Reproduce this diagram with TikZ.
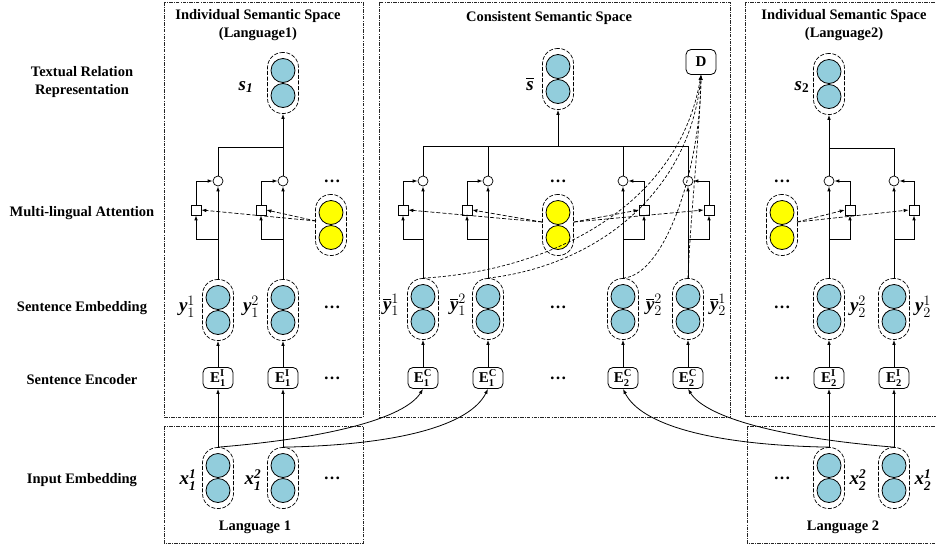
\documentclass[tikz,border=0pt]{standalone}
\usepackage{amsmath}
\usepackage{fontspec}
\setmainfont{Liberation Serif}
\usetikzlibrary{arrows.meta,calc}
\definecolor{cblue}{RGB}{146,205,220}
\definecolor{cyel}{RGB}{255,255,0}
\newcommand\tbi[1]{\text{\bfseries\itshape #1}}
\newcommand\tbu[1]{\text{\bfseries #1}}
\newcommand\mkpair[4]{%
  \node[pairbox] (#1) at (#2,#3) {};
  \node[unit,#4] (#1a) at (#2,#3-12.5) {};
  \node[unit,#4] (#1b) at (#2,#3+12.5) {};
}
\begin{document}
\begin{tikzpicture}[x=1pt,y=-1pt,
  tip/.style={-{Latex[length=5pt,width=3.6pt]}},
  region/.style={draw=black!85, line width=0.7pt, dash pattern=on 3.5pt off 1.2pt on 0.8pt off 1.2pt},
  pairbox/.style={draw, line width=0.7pt, dash pattern=on 4pt off 1.6pt, rounded corners=15pt, minimum width=31pt, minimum height=61pt, inner sep=0pt},
  unit/.style={circle, draw, line width=0.8pt, minimum size=24pt, inner sep=0pt},
  bfill/.style={fill=cblue}, yfill/.style={fill=cyel},
  enc/.style={draw, rounded corners=5pt, minimum width=30pt, minimum height=21pt, inner sep=0pt, line width=0.8pt, font=\fontsize{15}{17}\selectfont},
  att/.style={circle, draw, line width=0.7pt, minimum size=10pt, inner sep=0pt},
  sq/.style={draw, line width=0.7pt, minimum size=10pt, inner sep=0pt},
  txt/.style={font=\bfseries\fontsize{14.5}{18}\selectfont, align=center, inner sep=0pt},
  mlab/.style={font=\fontsize{19}{21}\selectfont, inner sep=0pt},
  dotsn/.style={font=\bfseries\fontsize{17}{19}\selectfont, inner sep=0pt},
  dline/.style={line width=0.7pt, dash pattern=on 4pt off 2pt},
  dcurve/.style={line width=0.7pt, dash pattern=on 3pt off 2pt},
  conn/.style={line width=0.8pt}
]
\useasboundingbox (0,0) rectangle (936,544);
\clip (0,0) rectangle (936,544);

% regions
\draw[region] (164,2) rectangle (363,417);
\draw[region] (164,426) rectangle (363,543);
\draw[region] (379,2) rectangle (730,417);
\draw[region] (745,2) rectangle (945,416);
\draw[region] (747,426) rectangle (945,543);

% titles
\node[txt] (t1) at (258,25) {Individual Semantic Space\\(Language1)};
\node[txt] (t2) at (549,18) {Consistent Semantic Space};
\node[txt] (t3) at (844,25) {Individual Semantic Space\\(Language2)};

% row labels
\node[txt] (r1) at (82,82) {Textual Relation\\Representation};
\node[txt] (r2) at (82,213) {Multi-lingual Attention};
\node[txt] (r3) at (82,308) {Sentence Embedding};
\node[txt] (r4) at (82,380) {Sentence Encoder};
\node[txt] (r5) at (82,480) {Input Embedding};
\node[txt] (lg1) at (255,527) {Language 1};
\node[txt] (lg2) at (843,527) {Language 2};

% relation representations
\mkpair{s1}{283}{83}{bfill}
\mkpair{sb}{558}{79}{bfill}
\mkpair{s2}{829}{84}{bfill}
\node[mlab] (s1l) at (246,87) {$\tbi{s}_{\tbi{1}}$};
\node[mlab] (sbl) at (530,84) {$\overline{\tbi{s}}$};
\node[mlab] (s2l) at (802,87) {$\tbi{s}_{\tbu{2}}$};

% D
\node[enc, minimum width=30pt, minimum height=25pt] (D) at (701,62) {\tbu{D}};

% yellow query vectors
\mkpair{Lyel}{331}{225}{yfill}
\mkpair{Myel}{558}{225}{yfill}
\mkpair{Ryel}{782}{225}{yfill}

% sentence embeddings
\mkpair{L1y}{218}{310}{bfill}
\mkpair{L2y}{283}{310}{bfill}
\mkpair{M1y}{423}{309}{bfill}
\mkpair{M2y}{488}{309}{bfill}
\mkpair{M3y}{623}{309}{bfill}
\mkpair{M4y}{688}{309}{bfill}
\mkpair{R2y}{829}{309}{bfill}
\mkpair{R1y}{894}{309}{bfill}
\node[mlab] (L1yl) at (187,307) {$\tbi{y}^{1}_{1}$};
\node[mlab] (L2yl) at (251,307) {$\tbi{y}^{2}_{1}$};
\node[mlab] (M1yl) at (391,305) {$\overline{\tbi{y}}^{1}_{1}$};
\node[mlab] (M2yl) at (458,305) {$\overline{\tbi{y}}^{2}_{1}$};
\node[mlab] (M3yl) at (654,305) {$\overline{\tbi{y}}^{2}_{2}$};
\node[mlab] (M4yl) at (718,305) {$\overline{\tbi{y}}^{1}_{2}$};
\node[mlab] (R2yl) at (858,307) {$\tbi{y}^{2}_{2}$};
\node[mlab] (R1yl) at (923,307) {$\tbi{y}^{1}_{2}$};

% encoders
\node[enc] (L1E) at (218,378) {$\tbu{E}^{\tbu{I}}_{\tbu{1}}$};
\node[enc] (L2E) at (283,378) {$\tbu{E}^{\tbu{I}}_{\tbu{1}}$};
\node[enc] (M1E) at (423,378) {$\tbu{E}^{\tbu{C}}_{\tbu{1}}$};
\node[enc] (M2E) at (488,378) {$\tbu{E}^{\tbu{C}}_{\tbu{1}}$};
\node[enc] (M3E) at (623,378) {$\tbu{E}^{\tbu{C}}_{\tbu{2}}$};
\node[enc] (M4E) at (688,378) {$\tbu{E}^{\tbu{C}}_{\tbu{2}}$};
\node[enc] (R2E) at (829,378) {$\tbu{E}^{\tbu{I}}_{\tbu{2}}$};
\node[enc] (R1E) at (894,378) {$\tbu{E}^{\tbu{I}}_{\tbu{2}}$};

% input embeddings
\mkpair{L1x}{218}{478}{bfill}
\mkpair{L2x}{283}{478}{bfill}
\mkpair{R2x}{829}{478}{bfill}
\mkpair{R1x}{894}{478}{bfill}
\node[mlab] (L1xl) at (188,480) {$\tbi{x}^{\tbi{1}}_{\tbi{1}}$};
\node[mlab] (L2xl) at (253,480) {$\tbi{x}^{\tbi{2}}_{\tbi{1}}$};
\node[mlab] (R2xl) at (858,480) {$\tbi{x}^{\tbi{2}}_{\tbi{2}}$};
\node[mlab] (R1xl) at (923,480) {$\tbi{x}^{\tbi{1}}_{\tbi{2}}$};

% dots
\node[dotsn] (d1) at (332,181) {…};
\node[dotsn] (d2) at (332,307) {…};
\node[dotsn] (d3) at (332,378) {…};
\node[dotsn] (d4) at (332,478) {…};
\node[dotsn] (d5) at (558,181) {…};
\node[dotsn] (d6) at (558,307) {…};
\node[dotsn] (d7) at (558,378) {…};
\node[dotsn] (d8) at (782,181) {…};
\node[dotsn] (d9) at (782,307) {…};
\node[dotsn] (d10) at (782,378) {…};
\node[dotsn] (d11) at (782,478) {…};

% attention units
\foreach \n/\x/\d in {L1/218/-22, L2/283/-22, M1/423/-20, M2/488/-21, M3/623/21, M4/688/21, R2/829/21, R1/894/20}{
  \node[att] (\n c) at (\x,181) {};
  \node[sq] (\n q) at (\x+\d,210) {};
  \coordinate (\n k) at (\x,239);
  \draw[conn,tip] (\n y.north) -- (\n c.south);
  \draw[conn,tip] (\n k) -| (\n q.south);
  \draw[conn,tip] (\n q.north) |- (\n c);
  \draw[conn,tip] (\n E.north) -- (\n y.south);
}

% merges
\coordinate (Lm) at (283,147);
\draw[conn] (L1c.north) |- (Lm);
\draw[conn] (L2c.north) -- (Lm);
\draw[conn,tip] (Lm) -- (s1.south);
\coordinate (Mm) at (558,146);
\draw[conn] (M1c.north) |- (Mm);
\draw[conn] (M2c.north) |- (Mm);
\draw[conn] (M3c.north) |- (Mm);
\draw[conn] (M4c.north) |- (Mm);
\draw[conn,tip] (Mm) -- (sb.south);
\coordinate (Rm) at (829,148);
\draw[conn] (R1c.north) |- (Rm);
\draw[conn] (R2c.north) -- (Rm);
\draw[conn,tip] (Rm) -- (s2.south);

% query to attention (dashed)
\coordinate (Lo) at (316,221);
\coordinate (Mo1) at (542,222);
\coordinate (Mo2) at (574,222);
\coordinate (Ro) at (797,222);
\draw[dline,tip] (Lo) -- (L1q.east);
\draw[dline,tip] (Lo) -- (L2q.east);
\draw[dline,tip] (Mo1) -- (M1q.east);
\draw[dline,tip] (Mo1) -- (M2q.east);
\draw[dline,tip] (Mo2) -- (M3q.west);
\draw[dline,tip] (Mo2) -- (M4q.west);
\draw[dline,tip] (Ro) -- (R2q.west);
\draw[dline,tip] (Ro) -- (R1q.west);

% discriminator curves
\draw[dcurve,tip] (M1y.north) .. controls (560,270) and (680,200) .. (D.south);
\draw[dcurve,tip] (M2y.north) .. controls (600,265) and (690,190) .. (D.south);
\draw[dcurve,tip] (M3y.north) .. controls (665,275) and (700,170) .. (D.south);
\draw[dcurve,tip] (M4y.north) .. controls (690,220) and (700,130) .. (D.south);

% inputs to encoders
\draw[conn,tip] (L1x.north) -- (L1E.south);
\draw[conn,tip] (L2x.north) -- (L2E.south);
\draw[conn,tip] (R1x.north) -- (R1E.south);
\draw[conn,tip] (R2x.north) -- (R2E.south);
\draw[conn,tip] (L1x.north) .. controls (330,438) and (405,418) .. (M1E.south);
\draw[conn,tip] (L2x.north) .. controls (400,445) and (470,425) .. (M2E.south);
\draw[conn,tip] (R2x.north) .. controls (712,445) and (641,425) .. (M3E.south);
\draw[conn,tip] (R1x.north) .. controls (782,438) and (706,418) .. (M4E.south);
\end{tikzpicture}
\end{document}
